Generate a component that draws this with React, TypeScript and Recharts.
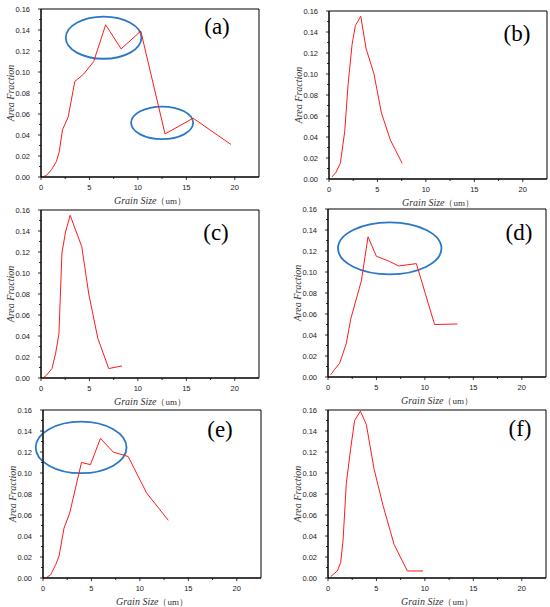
import React from "react";
import { LineChart, Line, XAxis, YAxis, ReferenceArea } from "recharts";

// grain size distributions
const aX = [0.17, 0.58, 1.09, 1.6, 1.88, 2.22, 2.8, 3.49, 4.4, 5.44, 6.67, 8.27, 10.3, 12.8, 15.7, 19.6];
const aY = [0, 0.0016, 0.007, 0.015, 0.024, 0.045, 0.057, 0.091, 0.098, 0.11, 0.145, 0.122, 0.139, 0.041, 0.056, 0.031];

const bX = [0.31, 0.72, 1.17, 1.62, 1.97, 2.38, 2.72, 3.28, 3.83, 4.62, 5.41, 6.34, 7.55];
const bY = [0.002, 0.0064, 0.015, 0.045, 0.09, 0.128, 0.146, 0.155, 0.124, 0.101, 0.063, 0.037, 0.015];

const cX = [0.2, 0.55, 1.13, 1.5, 1.85, 2.16, 2.53, 3.01, 4.21, 4.93, 5.86, 6.99, 8.36];
const cY = [0, 0.0025, 0.009, 0.023, 0.042, 0.119, 0.139, 0.155, 0.125, 0.08, 0.038, 0.009, 0.0115];

const dX = [0.28, 0.69, 1.2, 1.89, 2.34, 3.44, 4.13, 4.99, 6.37, 7.3, 9.12, 11.0, 13.36];
const dY = [0.0022, 0.0073, 0.013, 0.032, 0.055, 0.0915, 0.1335, 0.115, 0.11, 0.1057, 0.108, 0.05, 0.0505];

const eX = [0.28, 0.79, 1.31, 1.66, 2.17, 2.76, 3.97, 4.9, 5.93, 7.24, 8.79, 10.69, 12.93];
const eY = [0, 0.003, 0.0127, 0.021, 0.0475, 0.062, 0.11, 0.108, 0.133, 0.12, 0.1157, 0.081, 0.055];

const fX = [0.28, 0.62, 0.96, 1.31, 1.55, 1.89, 2.34, 2.75, 3.34, 3.96, 4.75, 5.68, 6.82, 8.19, 9.81];
const fY = [0.0013, 0.004, 0.0067, 0.0147, 0.0355, 0.09, 0.1235, 0.15, 0.159, 0.146, 0.104, 0.069, 0.032, 0.0067, 0.0067];

const xTicks = [0, 2.5, 5, 7.5, 10, 12.5, 15, 17.5, 20];
const yTicks = [0, 0.01, 0.02, 0.03, 0.04, 0.05, 0.06, 0.07, 0.08, 0.09, 0.1, 0.11, 0.12, 0.13, 0.14, 0.15, 0.16];

type Oval = { x1: number; x2: number; y1: number; y2: number };

const aOvals: Oval[] = [
  { x1: 2.56, x2: 10.36, y1: 0.1126, y2: 0.1527 },
  { x1: 9.3, x2: 15.7, y1: 0.036, y2: 0.0671 },
];
const dOvals: Oval[] = [{ x1: 1.03, x2: 11.71, y1: 0.0978, y2: 0.1473 }];
const eOvals: Oval[] = [{ x1: -0.75, x2: 8.62, y1: 0.0998, y2: 0.1489 }];

const TICK_FONT = "'Liberation Sans', Arial, sans-serif";
const SERIF = "'Liberation Serif', 'Times New Roman', serif";
const PLOT_W = 218;
const PLOT_H = 168;
const Y_AXIS_W = 41;
const TOP = 10;

function YTick(props: any) {
  const { x, y, payload } = props;
  const major = Math.round(payload.value * 100) % 2 === 0;
  return (
    <g>
      <line x1={x} x2={x - (major ? 3 : 2)} y1={y} y2={y} stroke="#000" strokeWidth={0.8} />
      {major && (
        <text x={x - 11} y={y} dy="0.35em" textAnchor="end" fontSize={7.5} fontFamily={TICK_FONT} fill="#1a1a1a">
          {payload.value.toFixed(2)}
        </text>
      )}
    </g>
  );
}

function XTick(props: any) {
  const { x, y, payload } = props;
  const major = payload.value % 5 === 0;
  return (
    <g>
      <line x1={x} x2={x} y1={y} y2={y + (major ? 3 : 2)} stroke="#000" strokeWidth={0.8} />
      {major && (
        <text x={x} y={y + 10} dy="0.35em" textAnchor="middle" fontSize={7.5} fontFamily={TICK_FONT} fill="#1a1a1a">
          {payload.value}
        </text>
      )}
    </g>
  );
}

const ovalShape = (p: any) => (
  <ellipse
    cx={p.x + p.width / 2}
    cy={p.y + p.height / 2}
    rx={Math.abs(p.width) / 2}
    ry={Math.abs(p.height) / 2}
    fill="none"
    stroke="#2a78c6"
    strokeWidth={1.8}
  />
);

function Panel({
  xs,
  ys,
  left,
  top,
  letter,
  letterX,
  letterY,
  ovals = [],
}: {
  xs: number[];
  ys: number[];
  left: number;
  top: number;
  letter: string;
  letterX: number;
  letterY: number;
  ovals?: Oval[];
}) {
  const rows = xs.map((x, i) => ({ x, y: ys[i] }));
  return (
    <>
      <div style={{ position: "absolute", left: left - Y_AXIS_W, top: top - TOP }}>
        <LineChart
          width={Y_AXIS_W + PLOT_W + 6}
          height={TOP + PLOT_H + 32}
          data={rows}
          margin={{ top: TOP, right: 6, bottom: 0, left: 0 }}
        >
          <XAxis
            type="number"
            dataKey="x"
            domain={[0, 22.5]}
            ticks={xTicks}
            interval={0}
            allowDataOverflow
            height={32}
            tickSize={0}
            tickMargin={0}
            tickLine={false}
            tick={<XTick />}
            axisLine={{ stroke: "#000", strokeWidth: 1 }}
            label={(lp: any) => {
              const vb = lp.viewBox;
              return (
                <text x={vb.x + vb.width / 2} y={vb.y + 23} dy="0.35em" textAnchor="middle" fontSize={10} fill="#333" fontFamily={SERIF}>
                  <tspan fontStyle="italic">Grain Size</tspan>
                  <tspan fontSize={9}>（um）</tspan>
                </text>
              );
            }}
          />
          <YAxis
            type="number"
            domain={[0, 0.16]}
            ticks={yTicks}
            interval={0}
            width={Y_AXIS_W}
            tickSize={0}
            tickMargin={0}
            tickLine={false}
            tick={<YTick />}
            axisLine={{ stroke: "#000", strokeWidth: 1 }}
            label={(lp: any) => {
              const vb = lp.viewBox;
              const cx = 10;
              const cy = vb.y + vb.height / 2;
              return (
                <text
                  x={cx}
                  y={cy}
                  transform={`rotate(-90 ${cx} ${cy})`}
                  textAnchor="middle"
                  dy="0.35em"
                  fontSize={10}
                  fontStyle="italic"
                  fill="#333"
                  fontFamily={SERIF}
                >
                  Area Fraction
                </text>
              );
            }}
          />
          <ReferenceArea x1={0} x2={22.5} y1={0} y2={0.16} fill="none" stroke="#000" strokeWidth={1} ifOverflow="visible" />
          <Line
            type="linear"
            dataKey="y"
            stroke="#ff1a1a"
            strokeWidth={1}
            dot={false}
            isAnimationActive={false}
          />
          {ovals.map((o, i) => (
            <ReferenceArea key={i} x1={o.x1} x2={o.x2} y1={o.y1} y2={o.y2} ifOverflow="visible" shape={ovalShape} />
          ))}
        </LineChart>
      </div>
      <div
        style={{
          position: "absolute",
          left: letterX - 30,
          top: letterY - 14,
          width: 60,
          height: 28,
          lineHeight: "28px",
          textAlign: "center",
          fontFamily: SERIF,
          fontSize: 23,
          color: "#000",
        }}
      >
        {letter}
      </div>
    </>
  );
}

export default function App() {
  return (
    <div style={{ position: "absolute", left: 0, top: 0, width: 550, height: 607, background: "#fff", overflow: "hidden" }}>
      <Panel xs={aX} ys={aY} left={41} top={9.3} letter="(a)" letterX={217} letterY={27} ovals={aOvals} />
      <Panel xs={bX} ys={bY} left={328.5} top={10.7} letter="(b)" letterX={517} letterY={34} />
      <Panel xs={cX} ys={cY} left={41.3} top={210} letter="(c)" letterX={216} letterY={233} />
      <Panel xs={dX} ys={dY} left={328.3} top={209.3} letter="(d)" letterX={519} letterY={233} ovals={dOvals} />
      <Panel xs={eX} ys={eY} left={43.3} top={410} letter="(e)" letterX={220} letterY={430} ovals={eOvals} />
      <Panel xs={fX} ys={fY} left={328.3} top={410.3} letter="(f)" letterX={520} letterY={429} />
    </div>
  );
}
